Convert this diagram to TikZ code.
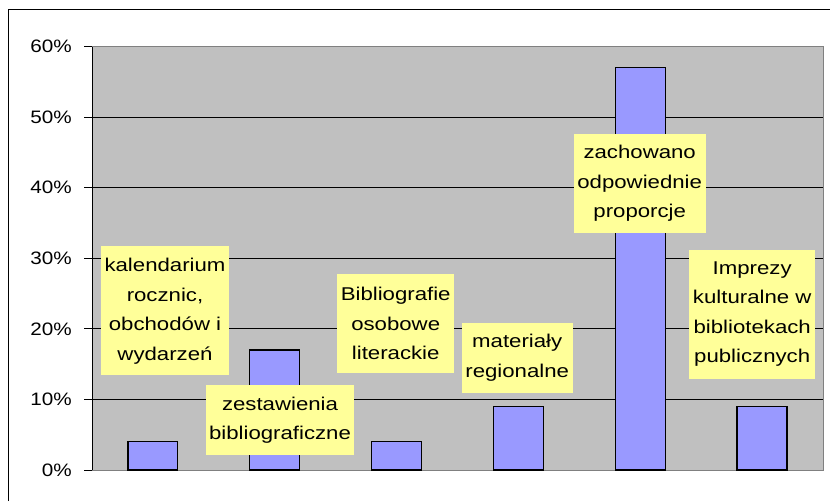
\documentclass[tikz,border=0pt]{standalone}
\usepackage{fontspec}
\setmainfont{Liberation Sans}
\newfontfamily\chartfont[FakeStretch=1.2]{Liberation Sans}
\newfontfamily\tickfont[FakeStretch=1.15]{Liberation Sans}
\definecolor{plotgray}{HTML}{C0C0C0}
\definecolor{barblue}{HTML}{9999FF}
\definecolor{notebg}{HTML}{FFFF99}
\tikzset{
  bar/.style={fill=barblue, draw=black, line width=1.2pt},
  note/.style={fill=notebg, align=center, inner xsep=3.5pt, inner ysep=0pt,
    font=\chartfont\fontsize{18.5}{29.5}\selectfont, minimum height={#1*29.5pt+11pt}},
  ticklabel/.style={anchor=east, inner sep=0pt, font=\tickfont\fontsize{18}{20}\selectfont},
}
\begin{document}
\begin{tikzpicture}[x=1pt,y=1pt]
    \useasboundingbox (0,0) rectangle (830,501);
    \draw[line width=1pt] (8,0) -- (8,491) -- (830,491);

    \begin{scope}[shift={(92,31)}, x=121.83pt, y=7.055pt]
      \fill[plotgray] (0,0) rectangle (6,60);
      \draw[gray] (0,60) -- (6,60) -- (6,0) -- (0,0);
      \foreach \p in {10,20,...,50}
        \draw[line width=1pt] (0,\p) -- (6,\p);
      \draw[line width=1pt] (0,0) -- (0,60);
      \foreach \p in {0,10,...,60} {
        \draw[line width=1pt] ([xshift=-8pt]0,\p) -- (0,\p);
        \node[ticklabel] (y\p) at ([xshift=-20pt]0,\p) {\p\%};
      }
      \def\bw{0.205}
      \foreach \v [count=\i] in {4,17,4,9,57,9}
        \filldraw[bar] ({\i-0.5-\bw},0) rectangle ({\i-0.5+\bw},\v);
    \end{scope}

    \node[note=4] (kal) at (165,190) {kalendarium\\rocznic,\\obchodów i\\wydarzeń};
    \node[note=2] (zes) at (280,81) {zestawienia\\bibliograficzne};
    \node[note=3] (bib) at (395.7,177.3) {Bibliografie\\osobowe\\literackie};
    \node[note=2] (mat) at (517.2,143.3) {materiały\\regionalne};
    \node[note=3] (zach) at (639.7,317.3) {zachowano\\odpowiednie\\proporcje};
    \node[note=4] (imp) at (752.2,186.7) {Imprezy\\kulturalne w\\bibliotekach\\publicznych};
  \end{tikzpicture}
\end{document}
